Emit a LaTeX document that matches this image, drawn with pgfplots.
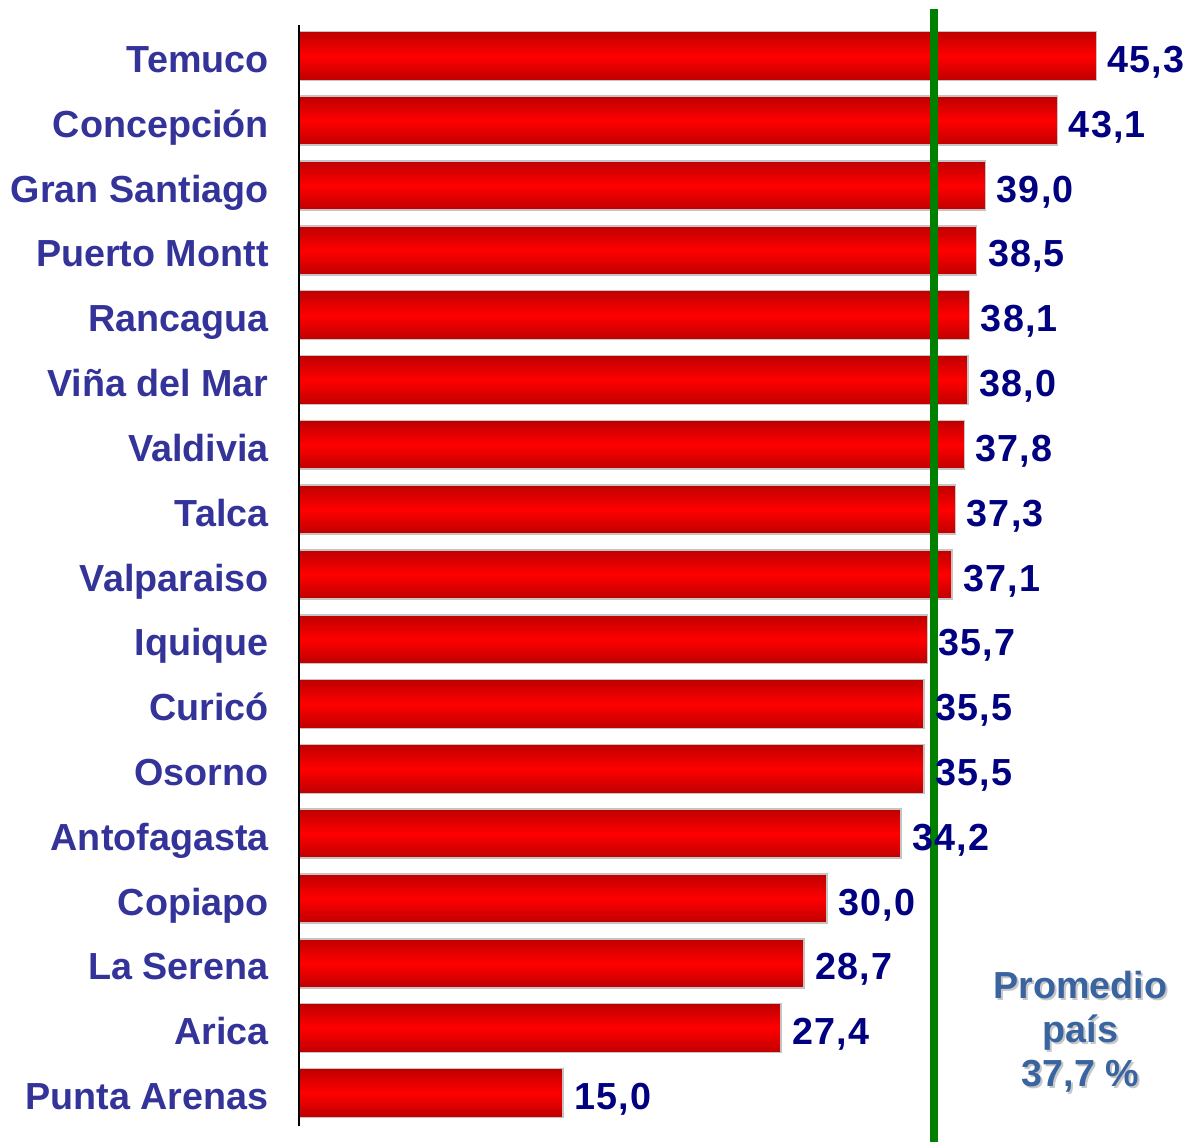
\documentclass[border=0pt]{standalone}
\usepackage{fontspec}
\setmainfont{Liberation Sans}
\usepackage{pgfplots}
\usepackage{pgfplotstable}
\pgfplotsset{compat=1.18}
\definecolor{labblue}{HTML}{333399}
\definecolor{valnavy}{HTML}{000080}
\definecolor{avgblue}{HTML}{3A64A0}
\definecolor{bardark}{HTML}{BE0000}
\definecolor{barborder}{HTML}{C4C4C4}
\definecolor{avggreen}{HTML}{008000}
\newcommand{\bigfont}{\fontsize{18.85}{22}\selectfont\bfseries}
\pgfplotsset{mybar/.style={xbar, bar width=0.756, bar shift=0pt, draw=barborder,
  line width=0.8pt, top color=bardark, bottom color=bardark, middle color=red}}
\pgfplotstableread[col sep=semicolon]{
idx;val;lab;city
0;45.3;45,3;Temuco
1;43.1;43,1;Concepción
2;39.0;39,0;Gran Santiago
3;38.5;38,5;Puerto Montt
4;38.1;38,1;Rancagua
5;38.0;38,0;Viña del Mar
6;37.8;37,8;Valdivia
7;37.3;37,3;Talca
8;37.1;37,1;Valparaiso
9;35.7;35,7;Iquique
10;35.5;35,5;Curicó
11;35.5;35,5;Osorno
12;34.2;34,2;Antofagasta
13;30.0;30,0;Copiapo
14;28.7;28,7;La Serena
15;27.4;27,4;Arica
16;15.0;15,0;Punta Arenas
}\data
\begin{document}
\begin{tikzpicture}
\useasboundingbox (-149.5pt,0pt) rectangle (444.5pt,572pt);
\begin{axis}[at={(0pt,0pt)}, anchor=south west, scale only axis,
  width=444.5pt, height=572pt,
  xmin=0, xmax=50.51, ymin=-0.864, ymax=16.79, y dir=reverse,
  axis line style={draw=none}, xtick=\empty,
  ytick={0,...,16}, yticklabels from table={\data}{city},
  major tick length=0pt,
  yticklabel style={anchor=east, inner sep=0pt, xshift=-15pt, font=\bigfont,
    text=labblue, text height=16.6pt, text depth=0pt},
  clip=false]
\addplot[mybar] coordinates {(45.3,0)};
\addplot[mybar] coordinates {(43.1,1)};
\addplot[mybar] coordinates {(39.0,2)};
\addplot[mybar] coordinates {(38.5,3)};
\addplot[mybar] coordinates {(38.1,4)};
\addplot[mybar] coordinates {(38.0,5)};
\addplot[mybar] coordinates {(37.8,6)};
\addplot[mybar] coordinates {(37.3,7)};
\addplot[mybar] coordinates {(37.1,8)};
\addplot[mybar] coordinates {(35.7,9)};
\addplot[mybar] coordinates {(35.5,10)};
\addplot[mybar] coordinates {(35.5,11)};
\addplot[mybar] coordinates {(34.2,12)};
\addplot[mybar] coordinates {(30.0,13)};
\addplot[mybar] coordinates {(28.7,14)};
\addplot[mybar] coordinates {(27.4,15)};
\addplot[mybar] coordinates {(15.0,16)};
\addplot[draw=none, mark=none, point meta=explicit symbolic, nodes near coords,
  every node near coord/.append style={anchor=west, inner sep=0pt, xshift=5.5pt,
    font=\bigfont\addfontfeature{LetterSpace=3}, text=valnavy, text height=16.6pt, text depth=0pt}]
  table[x=val,y=idx,meta=lab] {\data};
\addplot[avggreen, line width=4pt] coordinates {(36.08,-0.725) (36.08,16.76)};
\addplot[black, line width=1pt] coordinates {(0,-0.478) (0,16.51)};
\node[align=center, font=\bigfont, text=black!22, xshift=1pt, yshift=-1pt]
  at (axis cs:44.4,15.06) {Promedio\\país\\37,7 \%};
\node[align=center, font=\bigfont, text=avgblue]
  at (axis cs:44.4,15.06) {Promedio\\país\\37,7 \%};
\end{axis}
\end{tikzpicture}
\end{document}
